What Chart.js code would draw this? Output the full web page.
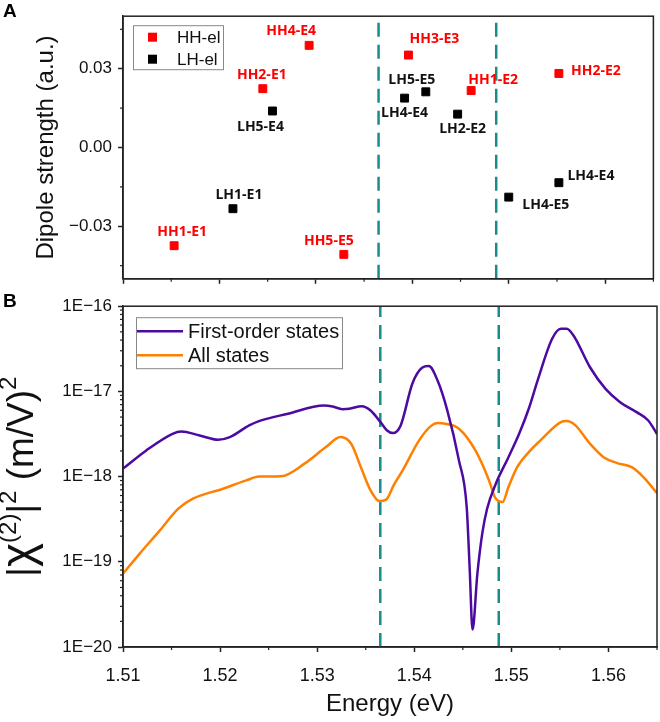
<!DOCTYPE html>
<html>
<head>
<meta charset="utf-8">
<script src="https://cdn.jsdelivr.net/npm/chart.js@4.4.1/dist/chart.umd.min.js"></script>
<style>
  html, body { margin: 0; padding: 0; background: #fff; }
  #wrap { position: relative; width: 660px; height: 722px; }
  #chartA { position: absolute; left: 0; top: 0; }
  #chartB { position: absolute; left: 0; top: 290px; }
</style>
</head>
<body>
<div id="wrap">
  <canvas id="chartA" width="660" height="295"></canvas>
  <canvas id="chartB" width="660" height="432"></canvas>
</div>
<script>
// ---- Panel A: dipole strength of the transitions ----
const hhLabels = ["HH1-E1", "HH2-E1", "HH4-E4", "HH5-E5", "HH3-E3", "HH1-E2", "HH2-E2"];
const hhEnergy = [1.5153, 1.5245, 1.5293, 1.5329, 1.5396, 1.5461, 1.5552];
const hhDipole = [-0.0374, 0.0224, 0.0389, -0.0407, 0.0352, 0.0217, 0.0282];

const lhLabels = ["LH1-E1", "LH5-E4", "LH4-E4", "LH5-E5", "LH2-E2", "LH4-E5", "LH4-E4"];
const lhEnergy = [1.5214, 1.5255, 1.5392, 1.5414, 1.5447, 1.5500, 1.5552];
const lhDipole = [-0.0233, 0.0139, 0.0188, 0.0212, 0.0127, -0.0189, -0.0134];

// ---- Panel B: |chi(2)|^2 spectra ----
const energyFirst = [1.5100, 1.5124, 1.5151, 1.5160, 1.5179, 1.5198, 1.5210, 1.5230, 1.5240, 1.5270,
  1.5307, 1.5316, 1.5326, 1.5333, 1.5346, 1.5355, 1.5366, 1.5372, 1.5378, 1.5386,
  1.5398, 1.5408, 1.5415, 1.5424, 1.5434, 1.5446, 1.5454, 1.5457, 1.5460, 1.5465,
  1.5470, 1.5475, 1.5484, 1.5497, 1.5508, 1.5518, 1.5527, 1.5542, 1.5551, 1.5557,
  1.5564, 1.5581, 1.5597, 1.5612, 1.5629, 1.5641, 1.5650];
const chiFirst = [1.24e-18, 2.03e-18, 3.18e-18, 3.39e-18, 3.04e-18, 2.71e-18, 2.91e-18, 3.99e-18, 4.48e-18, 5.47e-18,
  6.84e-18, 6.65e-18, 6.19e-18, 6.25e-18, 6.71e-18, 5.98e-18, 4.25e-18, 3.48e-18, 3.24e-18, 3.99e-18,
  1.23e-17, 1.89e-17, 1.98e-17, 1.34e-17, 5.98e-18, 1.55e-18, 4.39e-19, 8.69e-20, 1.60e-20, 7.26e-20,
  2.14e-19, 4.20e-19, 8.26e-19, 1.69e-18, 3.18e-18, 6.30e-18, 1.34e-17, 4.15e-17, 5.43e-17, 5.43e-17,
  4.53e-17, 1.92e-17, 1.07e-17, 7.48e-18, 5.71e-18, 4.56e-18, 3.16e-18];

const energyAll = [1.5100, 1.5117, 1.5138, 1.5157, 1.5172, 1.5203, 1.5227, 1.5240, 1.5263, 1.5287,
  1.5309, 1.5324, 1.5335, 1.5345, 1.5355, 1.5364, 1.5371, 1.5379, 1.5388, 1.5405,
  1.5417, 1.5424, 1.5432, 1.5446, 1.5463, 1.5477, 1.5483, 1.5491, 1.5497, 1.5506,
  1.5518, 1.5530, 1.5551, 1.5557, 1.5566, 1.5581, 1.5595, 1.5609, 1.5624, 1.5636, 1.5650];
const chiAll = [7.26e-20, 1.24e-19, 2.34e-19, 4.20e-19, 5.51e-19, 7.21e-19, 9.02e-19, 1.00e-18, 1.01e-18, 1.42e-18,
  2.22e-18, 2.91e-18, 2.43e-18, 1.29e-18, 6.89e-19, 5.16e-19, 5.36e-19, 8.00e-19, 1.18e-18, 2.66e-18,
  3.91e-18, 4.25e-18, 4.17e-18, 3.65e-18, 2.03e-18, 9.02e-19, 5.75e-19, 5.02e-19, 7.53e-19, 1.29e-18,
  1.94e-18, 2.66e-18, 4.36e-18, 4.48e-18, 3.99e-18, 2.43e-18, 1.69e-18, 1.44e-18, 1.29e-18, 9.86e-19, 6.40e-19];

// vertical dashed markers (eV)
const markerEnergies = [1.5365, 1.5487];

const seriesNamesA = ["HH-el", "LH-el"];
const seriesNamesB = ["First-order states", "All states"];
const decadeTicks = [1e-20, 1e-19, 1e-18, 1e-17, 1e-16];

// label offsets from each marker (px)
const hhOffsets = [[8, -14], [-1, -14], [-18, -14], [-15, -13], [26, -16], [22, -11], [37, -2]];
const lhOffsets = [[6, -14], [-12, 16], [0, 15], [-14, -12], [5, 15], [37, 8], [32, -7]];

const FONT = "'Liberation Sans', Arial, sans-serif";
const RED = "#ff0000";
const PURPLE = "#4c0aa0";
const ORANGE = "#ff8000";
const TEAL = "#1a8c8c";
const AXIS = "#222";

function isMajorE(v) { return Math.abs(Math.round(v * 100) - v * 100) < 1e-6; }
function isMajorD(v) { return Math.abs(Math.round(v / 0.03) * 0.03 - v) < 1e-6; }

function energyAxis(showLabels, height) {
  return {
    type: "linear", min: 1.51, max: 1.565,
    afterFit: (s) => {
      s.height = height;
      // keep the plot edges where the layout padding puts them
      s.paddingLeft = 0;
      s.paddingRight = 0;
    },
    border: { color: AXIS, width: 1.5 },
    grid: {
      drawOnChartArea: false, tickLength: 5, tickWidth: 1.5,
      tickColor: (c) => (c.tick && isMajorE(c.tick.value) ? AXIS : "rgba(0,0,0,0)"),
    },
    ticks: {
      stepSize: 0.005, maxTicksLimit: 20, autoSkip: false, maxRotation: 0, minRotation: 0,
      padding: 13, color: "#111", font: { family: FONT, size: 18 },
      callback: (v) => (showLabels && isMajorE(v) ? v.toFixed(2) : ""),
    },
    title: {
      display: showLabels, text: "Energy (eV)", color: "#111",
      font: { family: FONT, size: 24 }, padding: { top: 0, bottom: 3 },
    },
  };
}

function markerSets(yLow, yHigh) {
  return markerEnergies.map((e) => ({
    label: "marker",
    data: [{ x: e, y: yLow }, { x: e, y: yHigh }],
    showLine: true, pointRadius: 0, borderColor: TEAL, borderWidth: 2.5,
    borderDash: [14, 8],
  }));
}

// frame, minor ticks and panel letter
const framePlugin = {
  id: "frame",
  afterDraw(chart, args, opts) {
    const { ctx, chartArea: ca } = chart;
    ctx.save();
    ctx.strokeStyle = AXIS;
    ctx.lineWidth = 1.5;
    ctx.strokeRect(ca.left, ca.top, ca.right - ca.left, ca.bottom - ca.top);
    ctx.lineWidth = 1.2;
    const xs = chart.scales.x;
    for (let i = 0; i <= 11; i++) {
      const v = 1.51 + i * 0.005;
      if (isMajorE(v)) continue;
      const px = xs.getPixelForValue(v);
      ctx.beginPath(); ctx.moveTo(px, ca.bottom); ctx.lineTo(px, ca.bottom + 3); ctx.stroke();
    }
    (opts.yMinor || []).forEach((v) => {
      const py = chart.scales.y.getPixelForValue(v);
      ctx.beginPath(); ctx.moveTo(ca.left, py); ctx.lineTo(ca.left - 3, py); ctx.stroke();
    });
    ctx.fillStyle = "#000";
    ctx.font = "bold 19px " + FONT;
    ctx.textAlign = "left";
    ctx.textBaseline = "middle";
    ctx.fillText(opts.letter, 3, 12);
    ctx.restore();
  },
};

// point labels + legend for panel A
const panelAPlugin = {
  id: "panelA",
  afterDatasetsDraw(chart) {
    const { ctx, chartArea: ca } = chart;
    ctx.save();
    ctx.textAlign = "center";
    ctx.textBaseline = "middle";
    ctx.font = "bold 14px 'Open Sans', sans-serif";
    [[hhLabels, hhOffsets, RED], [lhLabels, lhOffsets, "#111"]].forEach(([labels, offs, col], di) => {
      const meta = chart.getDatasetMeta(di);
      ctx.fillStyle = col;
      meta.data.forEach((pt, i) => {
        ctx.fillText(labels[i], pt.x + offs[i][0], pt.y + offs[i][1]);
      });
    });
    // legend
    ctx.strokeStyle = "#888";
    ctx.lineWidth = 1;
    ctx.strokeRect(ca.left + 10.5, ca.top + 9.5, 90, 44);
    ctx.textAlign = "left";
    ctx.font = "17px " + FONT;
    [RED, "#000"].forEach((c, i) => {
      const cy = ca.top + 21 + i * 22;
      ctx.fillStyle = c;
      ctx.fillRect(ca.left + 25, cy - 4.5, 9, 9);
      ctx.fillStyle = "#111";
      ctx.fillText(seriesNamesA[i], ca.left + 54, cy + 1);
    });
    ctx.restore();
  },
};

// legend and rotated y title (with superscripts) for panel B
const panelBPlugin = {
  id: "panelB",
  afterDatasetsDraw(chart) {
    const { ctx, chartArea: ca } = chart;
    ctx.save();
    ctx.fillStyle = "#fff";
    ctx.fillRect(ca.left + 13, ca.top + 11, 206, 51);
    ctx.strokeStyle = "#888";
    ctx.lineWidth = 1;
    ctx.strokeRect(ca.left + 13.5, ca.top + 11.5, 206, 51);
    ctx.font = "20px " + FONT;
    ctx.textAlign = "left";
    ctx.textBaseline = "middle";
    [PURPLE, ORANGE].forEach((c, i) => {
      const cy = ca.top + 25 + i * 24;
      ctx.strokeStyle = c;
      ctx.lineWidth = 2.5;
      ctx.beginPath(); ctx.moveTo(ca.left + 14, cy); ctx.lineTo(ca.left + 60, cy); ctx.stroke();
      ctx.fillStyle = "#111";
      ctx.fillText(seriesNamesB[i], ca.left + 65, cy + 1);
    });

    // y title: |chi^(2)|^2 (m/V)^2
    const parts = [
      ["|", "37px " + FONT, 0],
      ["\u03C7", "46px " + FONT, 0],
      ["(2)", "24px " + FONT, -17],
      ["|", "37px " + FONT, 0],
      ["2", "24px " + FONT, -17],
      [" (m/V)", "37px " + FONT, 0],
      ["2", "24px " + FONT, -17],
    ];
    let total = 0;
    parts.forEach((p) => { ctx.font = p[1]; total += ctx.measureText(p[0]).width; });
    ctx.translate(19, (ca.top + ca.bottom) / 2);
    ctx.rotate(-Math.PI / 2);
    ctx.textBaseline = "alphabetic";
    ctx.fillStyle = "#111";
    let xx = -total / 2;
    parts.forEach((p) => {
      ctx.font = p[1];
      ctx.fillText(p[0], xx, 14 + p[2]);
      xx += ctx.measureText(p[0]).width;
    });
    ctx.restore();
  },
};

// ---------- chart A ----------
new Chart(document.getElementById("chartA"), {
  type: "scatter",
  data: {
    datasets: [
      {
        label: seriesNamesA[0],
        data: hhEnergy.map((e, i) => ({ x: e, y: hhDipole[i] })),
        pointStyle: "rect", pointRadius: 5.6, pointBorderWidth: 1,
        backgroundColor: RED, borderColor: RED,
      },
      {
        label: seriesNamesA[1],
        data: lhEnergy.map((e, i) => ({ x: e, y: lhDipole[i] })),
        pointStyle: "rect", pointRadius: 5.6, pointBorderWidth: 1,
        backgroundColor: "#000", borderColor: "#000",
      },
      ...markerSets(-0.05, 0.05),
    ],
  },
  options: {
    responsive: false,
    animation: false,
    layout: { padding: { left: 0, right: 3, top: 10, bottom: 0 } },
    scales: {
      x: energyAxis(false, 12),
      y: {
        min: -0.05, max: 0.05,
        afterFit: (s) => { s.width = 123; },
        border: { color: AXIS, width: 1.5 },
        grid: {
          drawOnChartArea: false, tickLength: 5, tickWidth: 1.5,
          tickColor: (c) => (c.tick && isMajorD(c.tick.value) ? AXIS : "rgba(0,0,0,0)"),
        },
        ticks: {
          stepSize: 0.015, includeBounds: false, padding: 6, color: "#111",
          font: { family: FONT, size: 17 },
          callback: (v) => (isMajorD(v) ? v.toFixed(2).replace("-", "\u2212") : ""),
        },
        title: {
          display: true, text: "Dipole strength (a.u.)", color: "#111",
          font: { family: FONT, size: 24 }, padding: { top: 32, bottom: 0 },
        },
      },
    },
    plugins: {
      legend: { display: false },
      tooltip: { enabled: false },
      frame: { letter: "A", yMinor: [-0.045, -0.015, 0.015, 0.045] },
    },
  },
  plugins: [panelAPlugin, framePlugin],
});

// ---------- chart B ----------
const minorLog = [];
for (let d = -20; d < -16; d++) {
  for (let k = 2; k <= 9; k++) minorLog.push(k * Math.pow(10, d));
}

new Chart(document.getElementById("chartB"), {
  type: "scatter",
  data: {
    datasets: [
      {
        label: seriesNamesB[0],
        data: energyFirst.map((e, i) => ({ x: e, y: chiFirst[i] })),
        showLine: true, pointRadius: 0, borderColor: PURPLE, borderWidth: 2.5,
        cubicInterpolationMode: "monotone",
      },
      {
        label: seriesNamesB[1],
        data: energyAll.map((e, i) => ({ x: e, y: chiAll[i] })),
        showLine: true, pointRadius: 0, borderColor: ORANGE, borderWidth: 2.5,
        cubicInterpolationMode: "monotone",
      },
      ...markerSets(1e-20, 1e-16),
    ],
  },
  options: {
    responsive: false,
    animation: false,
    layout: { padding: { left: 0, right: 3, top: 16, bottom: 0 } },
    scales: {
      x: energyAxis(true, 75),
      y: {
        type: "logarithmic", min: 1e-20, max: 1e-16,
        afterFit: (s) => { s.width = 123; },
        afterBuildTicks: (s) => { s.ticks = decadeTicks.map((v) => ({ value: v })); },
        border: { color: AXIS, width: 1.5 },
        grid: { drawOnChartArea: false, tickLength: 5, tickWidth: 1.5, tickColor: AXIS },
        ticks: {
          padding: 6, color: "#111", font: { family: FONT, size: 17 },
          callback: (v) => "1E\u2212" + Math.round(-Math.log10(v)),
        },
        title: { display: false },
      },
    },
    plugins: {
      legend: { display: false },
      tooltip: { enabled: false },
      frame: { letter: "B", yMinor: minorLog },
    },
  },
  plugins: [panelBPlugin, framePlugin],
});
</script>
</body>
</html>
